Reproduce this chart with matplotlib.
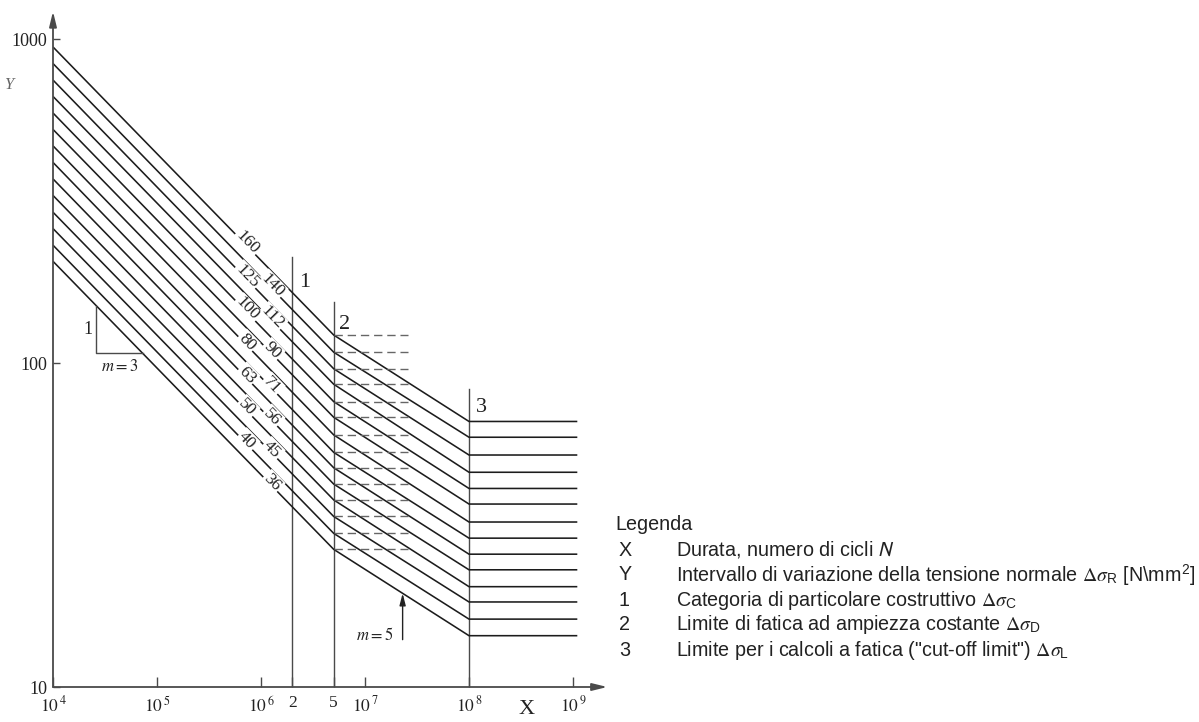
import numpy as np
import matplotlib
matplotlib.use("Agg")
import matplotlib.pyplot as plt

plt.rcParams['font.family'] = ['Liberation Serif', 'DejaVu Serif']
plt.rcParams['mathtext.fontset'] = 'stix'

# ---- data ----
categories = [160, 140, 125, 112, 100, 90, 80, 71, 63, 56, 50, 45, 40, 36]
sigma_1e4 = [945, 840, 747, 665, 591, 526, 468, 416, 370, 329, 292, 260, 231, 206]   # at N = 1e4
sigma_D = [122, 108, 96, 86, 76, 68, 60, 53, 47.5, 42.3, 37.8, 33.6, 29.8, 26.6]      # at N = 5e6
sigma_L = [66, 59, 52, 46, 41, 36.7, 32.3, 28.8, 25.7, 23.0, 20.4, 18.3, 16.2, 14.4]  # at N = 1e8
N_start, N_C, N_D, N_L, N_end = 1e4, 2e6, 5e6, 1e8, 1.1e9
N_dash_end = 2.6e7
vline_N = [2e6, 5e6, 1e8]
vline_top = [212, 154, 83]
vline_labels = ['1', '2', '3']
xtick_vals = [1e4, 1e5, 1e6, 2e6, 5e6, 1e7, 1e8, 1e9]
xtick_labels = [r'$10^{\,4}$', r'$10^{\,5}$', r'$10^{\,6}$', '2', '5',
                r'$10^{\,7}$', r'$10^{\,8}$', r'$10^{\,9}$']
ytick_vals = [10, 100, 1000]
ytick_labels = ['10', '100', '1000']

legend_keys = ['X', 'Y', '1', '2', '3']
legend_texts = [
    r'Durata, numero di cicli $N$',
    r'Intervallo di variazione della tensione normale $\Delta\sigma_{\mathregular{R}}$ [N\mm$^{\mathregular{2}}$]',
    r'Categoria di particolare costruttivo $\Delta\sigma_{\mathregular{C}}$',
    r'Limite di fatica ad ampiezza costante $\Delta\sigma_{\mathregular{D}}$',
    r'Limite per i calcoli a fatica ("cut-off limit") $\Delta\sigma_{\mathregular{L}}$',
]

W, H = 1199, 722
fig = plt.figure(figsize=(W / 100, H / 100), dpi=100)
ax = fig.add_axes([53 / W, 35 / H, 572 / W, 680.4 / H])
ax.set_xscale('log')
ax.set_yscale('log')
ax.set_xlim(1e4, 10 ** 9.5)
ax.set_ylim(10, 10 ** 3.1)
for s in ax.spines.values():
    s.set_visible(False)

axis_col = '#4a4a4a'
line_col = '#1c1c1c'

# axes with arrows
ax.annotate('', xy=(10 ** 9.33, 10), xytext=(1e4, 10), annotation_clip=False,
            arrowprops=dict(arrowstyle='-|>,head_length=0.9,head_width=0.22',
                            color=axis_col, lw=1.3, shrinkA=0, shrinkB=0))
ax.annotate('', xy=(1e4, 10 ** 3.085), xytext=(1e4, 10), annotation_clip=False,
            arrowprops=dict(arrowstyle='-|>,head_length=0.9,head_width=0.22',
                            color=axis_col, lw=1.3, shrinkA=0, shrinkB=0))

ax.set_xticks(xtick_vals)
ax.set_xticklabels(xtick_labels, fontsize=12.5)
ax.set_yticks(ytick_vals)
ax.set_yticklabels(ytick_labels, fontsize=13)
ax.minorticks_off()
ax.tick_params(axis='x', direction='in', length=7, width=1, color=axis_col, pad=6, labelcolor='#222')
ax.tick_params(axis='y', direction='in', length=5, width=1, color=axis_col, pad=4, labelcolor='#222')

# S-N curves
for i, c in enumerate(categories):
    ax.plot([N_start, N_D, N_L, N_end], [sigma_1e4[i], sigma_D[i], sigma_L[i], sigma_L[i]],
            color=line_col, lw=1.15, solid_capstyle='butt', zorder=2)
    ax.plot([N_D, N_dash_end], [sigma_D[i], sigma_D[i]], color='#666', lw=1.0,
            ls=(0, (6, 3.5)), zorder=2)

# vertical reference lines
offs = [(9, -18), (8, -16), (9, -13)]
for n, top, lab, o in zip(vline_N, vline_top, vline_labels, offs):
    ax.plot([n, n], [10, top], color=axis_col, lw=1.0, zorder=1)
    ax.annotate(lab, xy=(n, top), xytext=o, textcoords='offset points',
                ha='center', va='center', fontsize=16, color='#222')

# category labels on the lines
fig.canvas.draw()
for i, c in enumerate(categories):
    lx = 10 ** (4 + 194 / 104) if i % 2 == 0 else 10 ** (4 + 219 / 104)
    ly = 10 ** np.interp(np.log10(lx), np.log10([N_start, N_D]),
                         np.log10([sigma_1e4[i], sigma_D[i]]))
    p1 = ax.transData.transform((N_start, sigma_1e4[i]))
    p2 = ax.transData.transform((N_D, sigma_D[i]))
    ang = np.degrees(np.arctan2(p2[1] - p1[1], p2[0] - p1[0]))
    ax.annotate(str(c), xy=(lx, ly), xytext=(0, 2.5), textcoords='offset points',
                ha='center', va='center', rotation=ang, rotation_mode='anchor',
                fontsize=12.5, color='#222', zorder=4,
                bbox=dict(facecolor='white', edgecolor='none', pad=1.0))

# slope triangle m = 3
tri_N = 2.6e4
tri_S = 107
b = len(categories) - 1
logx = np.log10([N_start, N_D])
logy = np.log10([sigma_1e4[b], sigma_D[b]])
top_S = 10 ** np.interp(np.log10(tri_N), logx, logy)
right_N = 10 ** np.interp(np.log10(tri_S), logy[::-1], logx[::-1])
ax.plot([tri_N, tri_N, right_N], [top_S, tri_S, tri_S], color=axis_col, lw=1.0)
ax.annotate('1', xy=(tri_N, np.sqrt(top_S * tri_S)), xytext=(-6, 0), textcoords='offset points',
            ha='center', va='center', fontsize=13, color='#222')
ax.annotate(r'$m = 3$', xy=(np.sqrt(tri_N * right_N), tri_S), xytext=(0, -10),
            textcoords='offset points', ha='center', va='center', fontsize=12, color='#222')

# slope arrow m = 5
arr_N = 2.3e7
arr_tip = 10 ** np.interp(np.log10(arr_N), np.log10([N_D, N_L]),
                          np.log10([sigma_D[b], sigma_L[b]]))
arr_tail = 14.0
ax.annotate('', xy=(arr_N, arr_tip), xytext=(arr_N, arr_tail),
            arrowprops=dict(arrowstyle='-|>,head_length=0.7,head_width=0.18',
                            color='#222', lw=1.0, shrinkA=0, shrinkB=0))
ax.annotate(r'$m = 5$', xy=(arr_N, arr_tail), xytext=(-20, 3), textcoords='offset points',
            ha='center', va='center', fontsize=12, color='#222')

# axis letters
fig.text(527 / W, 1 - 710 / H, 'X', ha='center', va='center', fontsize=16, color='#222')
fig.text(9 / W, 1 - 85 / H, 'Y', ha='center', va='center', fontsize=12, color='#666',
         style='italic')

# legend
lf = ['Liberation Sans', 'DejaVu Sans']
fs = 14.2
fig.text(615 / W, 1 - 525 / H, 'Legenda', ha='left', va='center', fontsize=fs,
         family=lf, color='#222')
for k, (key, txt) in enumerate(zip(legend_keys, legend_texts)):
    y = 1 - (550 + 25 * k) / H
    fig.text(619 / W, y, key, ha='left', va='center', fontsize=fs, family=lf, color='#222')
    t = fig.text(676 / W, y, txt, ha='left', va='center', fontsize=fs, family=lf, color='#222')
    if k == 0:
        t.set_math_fontfamily('stixsans')

fig.savefig('out.png', dpi=100)
